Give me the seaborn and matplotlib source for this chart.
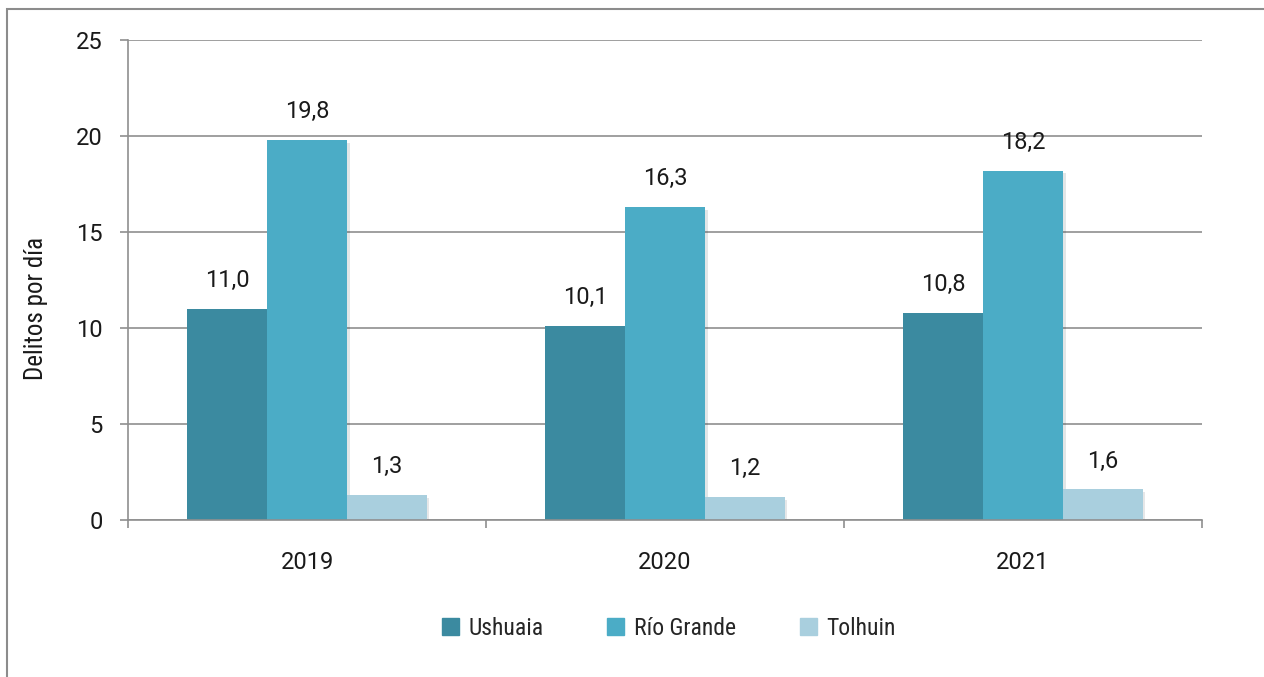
import matplotlib
matplotlib.use("Agg")
import matplotlib.pyplot as plt
import matplotlib.patheffects as pe
from matplotlib.patches import Rectangle
import pandas as pd
import seaborn as sns

# ── Data ──
years = ["2019", "2020", "2021"]
cities = ["Ushuaia", "Río Grande", "Tolhuin"]
ushuaia = [11.0, 10.1, 10.8]
rio_grande = [19.8, 16.3, 18.2]
tolhuin = [1.3, 1.2, 1.6]
colors = ["#3B8AA0", "#4BACC6", "#A9CFDE"]

df = pd.DataFrame({
    "year": years * 3,
    "city": [c for c in cities for _ in years],
    "value": ushuaia + rio_grande + tolhuin,
})

sns.set_theme(style="white")
plt.rcParams["font.family"] = ["Roboto", "DejaVu Sans"]
narrow = ["Roboto Condensed", "Liberation Sans Narrow", "Roboto", "DejaVu Sans"]
txt_c = "#1a1a1a"
grid_c = "#8f8f8f"

fig = plt.figure(figsize=(12.64, 6.77), dpi=100)
ax = fig.add_axes([0.1013, 0.2319, 0.8497, 0.709])

sns.barplot(
    data=df, x="year", y="value", hue="city",
    hue_order=cities, order=years, palette=colors,
    width=0.668, saturation=1, ax=ax, legend=False, errorbar=None,
)

# soft shadow on bars
for bar in ax.patches:
    bar.set_linewidth(0)
    bar.set_path_effects([
        pe.SimplePatchShadow(offset=(2, -2), alpha=0.12),
        pe.Normal(),
    ])

for cont in ax.containers:
    ax.bar_label(
        cont, labels=[f"{v:.1f}".replace(".", ",") for v in cont.datavalues],
        padding=12, fontsize=17, color=txt_c,
    )

ax.set_ylim(0, 25)
ax.set_xlim(-0.5, 2.5)
ax.set_yticks(range(0, 26, 5))
ax.yaxis.grid(True, color=grid_c, linewidth=1.2)
ax.set_axisbelow(True)
for side in ["top", "right"]:
    ax.spines[side].set_visible(False)
for side in ["left", "bottom"]:
    ax.spines[side].set_color(grid_c)
    ax.spines[side].set_linewidth(1.2)

ax.tick_params(axis="y", which="major", length=6, width=1.2, color=grid_c,
               pad=12, labelsize=17, labelcolor=txt_c, left=True)
ax.tick_params(axis="x", which="major", length=0, pad=22, labelsize=17,
               labelcolor=txt_c)
ax.set_xticks([-0.5, 0.5, 1.5, 2.5], minor=True)
ax.tick_params(axis="x", which="minor", length=6, width=1.2, color=grid_c,
               bottom=True)

ax.set_xlabel("")
ax.set_ylabel("Delitos por día", fontsize=18, family=narrow,
              fontstretch="condensed", color=txt_c)
ax.yaxis.set_label_coords(-0.0745, 0.4417)

# legend
handles = [Rectangle((0, 0), 1, 1, color=c) for c in colors]
fig.legend(
    handles, cities, loc="center", bbox_to_anchor=(0.529, 0.072),
    ncol=3, frameon=False, handlelength=0.72, handleheight=0.72,
    handletextpad=0.4, columnspacing=2.7,
    prop={"family": narrow, "size": 17, "stretch": "condensed"},
)

# chart border (only left and top edges fall inside the image)
fig.patches.append(Rectangle(
    (7 / 1264, -0.1), 1.2, 1 - 9 / 677 + 0.1, transform=fig.transFigure,
    fill=False, edgecolor="#8c8c8c", linewidth=1.5, zorder=0,
))

fig.savefig("out.png", dpi=100)
